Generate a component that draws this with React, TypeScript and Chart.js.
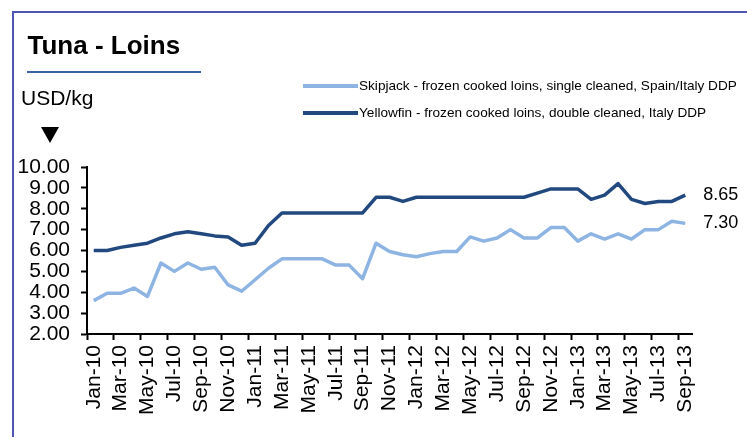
import React, { useEffect, useRef } from "react";
import { Chart, registerables } from "chart.js";

Chart.register(...registerables);

const months = [
  "Jan-10", "Feb-10", "Mar-10", "Apr-10", "May-10", "Jun-10", "Jul-10", "Aug-10", "Sep-10", "Oct-10", "Nov-10", "Dec-10",
  "Jan-11", "Feb-11", "Mar-11", "Apr-11", "May-11", "Jun-11", "Jul-11", "Aug-11", "Sep-11", "Oct-11", "Nov-11", "Dec-11",
  "Jan-12", "Feb-12", "Mar-12", "Apr-12", "May-12", "Jun-12", "Jul-12", "Aug-12", "Sep-12", "Oct-12", "Nov-12", "Dec-12",
  "Jan-13", "Feb-13", "Mar-13", "Apr-13", "May-13", "Jun-13", "Jul-13", "Aug-13", "Sep-13",
];

const skipjack = [
  3.6, 3.95, 3.95, 4.2, 3.8, 5.4, 5.0, 5.4, 5.1, 5.2, 4.35, 4.05,
  4.6, 5.15, 5.6, 5.6, 5.6, 5.6, 5.3, 5.3, 4.65, 6.35, 5.95, 5.8,
  5.7, 5.85, 5.95, 5.95, 6.65, 6.45, 6.6, 7.0, 6.6, 6.6, 7.1, 7.1,
  6.45, 6.8, 6.55, 6.8, 6.55, 7.0, 7.0, 7.4, 7.3,
];

const yellowfin = [
  6.0, 6.0, 6.15, 6.25, 6.35, 6.6, 6.8, 6.9, 6.8, 6.7, 6.65, 6.25,
  6.35, 7.2, 7.8, 7.8, 7.8, 7.8, 7.8, 7.8, 7.8, 8.55, 8.55, 8.35,
  8.55, 8.55, 8.55, 8.55, 8.55, 8.55, 8.55, 8.55, 8.55, 8.75, 8.95, 8.95,
  8.95, 8.45, 8.65, 9.2, 8.45, 8.25, 8.35, 8.35, 8.65,
];

const seriesNames = [
  "Skipjack - frozen cooked loins, single cleaned, Spain/Italy DDP",
  "Yellowfin - frozen cooked loins, double cleaned, Italy DDP",
];
const seriesColors = ["#8DB4E2", "#22497F"];

const yMin = 2;
const yMax = 10;
const yStep = 1;

const FONT = '"Liberation Sans", Arial, sans-serif';

const endLabels = {
  id: "endLabels",
  afterDatasetsDraw(chart: any) {
    const ctx = chart.ctx;
    ctx.save();
    ctx.font = `18px ${FONT}`;
    ctx.fillStyle = "#000";
    ctx.textAlign = "left";
    ctx.textBaseline = "middle";
    chart.data.datasets.forEach((ds: any, i: number) => {
      const meta = chart.getDatasetMeta(i);
      const last = meta.data.length - 1;
      const pt = meta.data[last];
      ctx.fillText(Number(ds.data[last]).toFixed(2), pt.x + 18, pt.y);
    });
    ctx.restore();
  },
};

export default function App() {
  const ref = useRef<HTMLCanvasElement>(null);

  useEffect(() => {
    const chart = new Chart(ref.current!, {
      type: "line",
      data: {
        labels: months,
        datasets: [
          {
            label: seriesNames[0],
            data: skipjack,
            borderColor: seriesColors[0],
            backgroundColor: seriesColors[0],
            borderWidth: 3.5,
            pointRadius: 0,
            tension: 0,
            borderJoinStyle: "round",
          },
          {
            label: seriesNames[1],
            data: yellowfin,
            borderColor: seriesColors[1],
            backgroundColor: seriesColors[1],
            borderWidth: 3.5,
            pointRadius: 0,
            tension: 0,
            borderJoinStyle: "round",
          },
        ],
      },
      options: {
        responsive: false,
        animation: false,
        devicePixelRatio: 1,
        layout: { padding: { top: 167, right: 55, bottom: 0, left: 0 } },
        plugins: {
          legend: { display: false },
          tooltip: { enabled: false },
        },
        scales: {
          x: {
            type: "category",
            offset: true,
            border: { display: true, color: "#000", width: 2 },
            grid: {
              offset: true,
              drawOnChartArea: false,
              drawTicks: true,
              tickLength: 6,
              tickWidth: 2,
              tickColor: (c: any) => (typeof c.index === "number" && c.index % 2 === 0 ? "#000" : "rgba(0,0,0,0)"),
              color: "rgba(0,0,0,0)",
            },
            ticks: {
              autoSkip: false,
              maxRotation: 90,
              minRotation: 90,
              padding: 5,
              color: "#000",
              font: { family: FONT, size: 21, lineHeight: 1 },
              callback: (_v: any, i: number) => (i % 2 === 0 ? months[i] : ""),
            },
            afterFit: (s: any) => {
              s.height = 103;
            },
          },
          y: {
            type: "linear",
            min: yMin,
            max: yMax,
            border: { display: true, color: "#000", width: 2 },
            grid: {
              drawOnChartArea: false,
              drawTicks: true,
              tickLength: 6,
              tickWidth: 2,
              tickColor: "#000",
              color: "rgba(0,0,0,0)",
            },
            ticks: {
              stepSize: yStep,
              autoSkip: false,
              padding: 11,
              color: "#000",
              font: { family: FONT, size: 21, lineHeight: 1 },
              callback: (v: any) => Number(v).toFixed(2),
            },
            afterFit: (s: any) => {
              s.width = 87;
            },
          },
        },
      },
      plugins: [endLabels],
    } as any);
    return () => chart.destroy();
  }, []);

  return (
    <div
      style={{
        position: "fixed",
        left: 0,
        top: 0,
        width: 747,
        height: 437,
        overflow: "hidden",
        background: "#fff",
        fontFamily: FONT,
        color: "#000",
      }}
    >
      <div
        style={{
          position: "absolute",
          left: 12,
          top: 11,
          width: 800,
          height: 500,
          borderLeft: "2px solid #4E55B2",
          borderTop: "2px solid #4E55B2",
        }}
      />
      <canvas
        ref={ref}
        width={747}
        height={437}
        style={{ position: "absolute", left: 0, top: 0, width: 747, height: 437 }}
      />
      <div
        style={{
          position: "absolute",
          left: 27.5,
          top: 32,
          fontSize: 26,
          lineHeight: "26px",
          fontWeight: "bold",
          whiteSpace: "nowrap",
        }}
      >
        Tuna - Loins
      </div>
      <div
        style={{ position: "absolute", left: 27, top: 70.5, width: 174, height: 2.5, background: "#3A63A3" }}
      />
      <div
        style={{ position: "absolute", left: 21, top: 87, fontSize: 21, lineHeight: "21px", whiteSpace: "nowrap" }}
      >
        USD/kg
      </div>
      <div
        style={{
          position: "absolute",
          left: 41,
          top: 127,
          width: 0,
          height: 0,
          borderLeft: "9.5px solid transparent",
          borderRight: "9.5px solid transparent",
          borderTop: "16px solid #000",
        }}
      />
      {seriesNames.map((name, i) => (
        <React.Fragment key={name}>
          <div
            style={{
              position: "absolute",
              left: 303,
              top: 84 + i * 27,
              width: 55,
              height: 4,
              background: seriesColors[i],
            }}
          />
          <div
            style={{
              position: "absolute",
              left: 359,
              top: 79.2 + i * 27,
              fontSize: 13.6,
              lineHeight: "14px",
              whiteSpace: "nowrap",
            }}
          >
            {name}
          </div>
        </React.Fragment>
      ))}
    </div>
  );
}
